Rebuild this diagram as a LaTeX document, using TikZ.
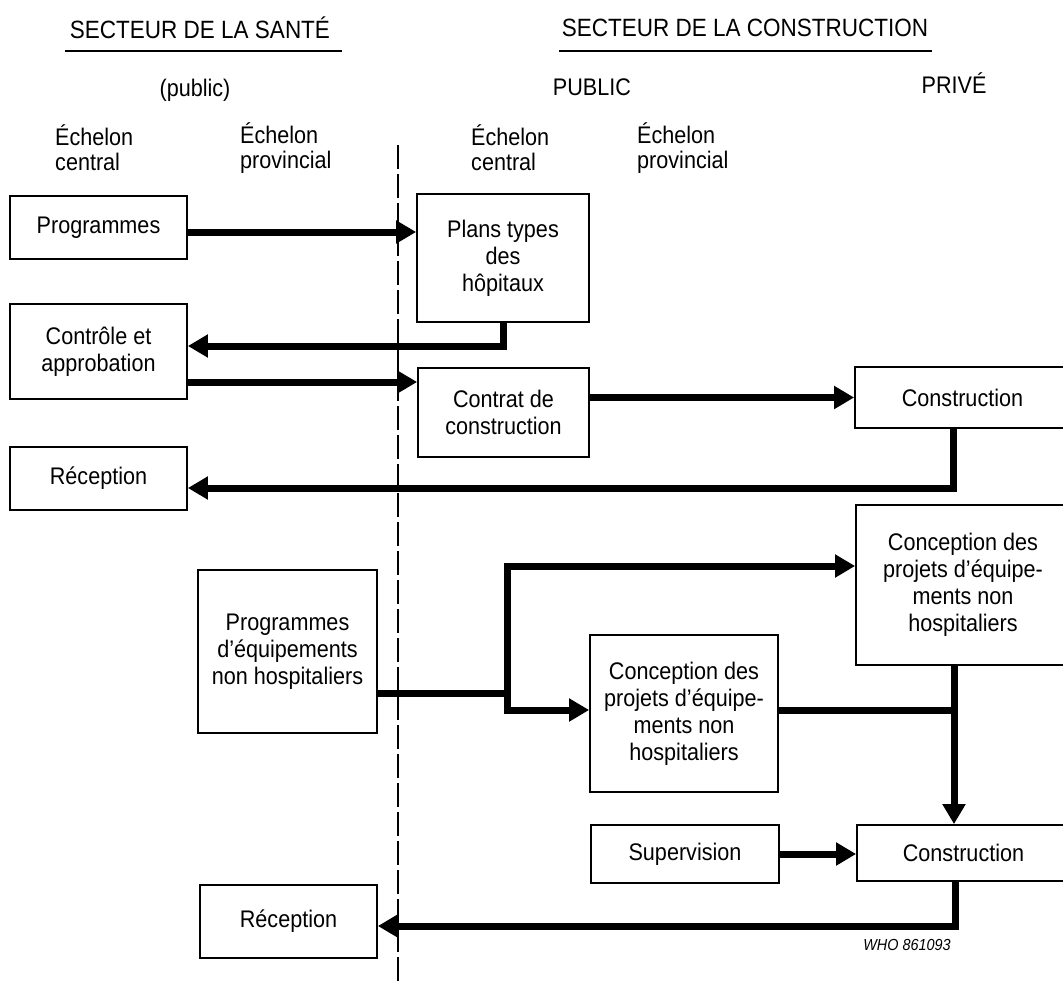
\documentclass[tikz,border=0pt]{standalone}
\usepackage{fontspec}
\setmainfont{Liberation Sans}[FakeStretch=0.9]
\usetikzlibrary{arrows.meta,calc}
\begin{document}
\begin{tikzpicture}[x=1pt,y=-1pt,
  box/.style={draw, line width=1.8pt, align=center, inner sep=0pt, font=\fontsize{24}{27}\selectfont},
  lbl/.style={inner sep=0pt, font=\fontsize{24}{25}\selectfont},
  hdr/.style={inner sep=0pt, font=\fontsize{25}{28}\selectfont},
  conn/.style={line width=7pt},
  arr/.style={conn, -{Triangle[length=20pt,width=22pt]}},
  rule/.style={line width=2pt},
  divider/.style={line width=1.8pt, dash pattern=on 24pt off 5pt},
]
\useasboundingbox (0,0) rectangle (1063,985);
\clip (0,0) rectangle (1063,985);

% headings
\node[hdr] (h1) at (200,28) {SECTEUR DE LA SANTÉ};
\draw[rule] (65,51) -- (342,51);
\node[hdr] (h2) at (745,28) {SECTEUR DE LA CONSTRUCTION};
\draw[rule] (559,51) -- (932,51);
\node[lbl] (pub1) at (195,90) {(public)};
\node[lbl] (pub2) at (592,87) {PUBLIC};
\node[lbl] (priv) at (954,83) {PRIVÉ};
\node[lbl, anchor=west, align=left] (e1) at (55,148) {Échelon\\central};
\node[lbl, anchor=west, align=left] (e2) at (240,148) {Échelon\\provincial};
\node[lbl, anchor=west, align=left] (e3) at (471,148) {Échelon\\central};
\node[lbl, anchor=west, align=left] (e4) at (637,148) {Échelon\\provincial};

% divider
\draw[divider] (398,145) -- (398,985);

% boxes
\node[box, minimum width=177pt, minimum height=63pt] (prog) at (98.5,227.5) {Programmes};
\node[box, minimum width=172pt, minimum height=128pt] (plans) at (503,258) {Plans types\\des\\hôpitaux};
\node[box, minimum width=177pt, minimum height=95pt] (ctrl) at (98.5,351.5) {Contrôle et\\approbation};
\node[box, minimum width=171pt, minimum height=89pt] (contrat) at (503.5,412.5) {Contrat de\\construction};
\node[box, minimum width=215pt, minimum height=61pt] (constr) at (962.5,397.5) {Construction};
\node[box, minimum width=177pt, minimum height=63pt] (rec1) at (98.5,478.5) {Réception};
\node[box, minimum width=179pt, minimum height=163pt] (progeq) at (287.5,651.5) {Programmes\\d’équipements\\non hospitaliers};
\node[box, minimum width=214pt, minimum height=160pt] (pconc) at (963,585) {Conception des\\projets d’équipe-\\ments non\\hospitaliers};
\node[box, minimum width=188pt, minimum height=157pt] (gconc) at (684,713.5) {Conception des\\projets d’équipe-\\ments non\\hospitaliers};
\node[box, minimum width=188pt, minimum height=58pt] (sup) at (685,854) {Supervision};
\node[box, minimum width=213pt, minimum height=56pt] (constr2) at (963.5,853) {Construction};
\node[box, minimum width=177pt, minimum height=73pt] (rec2) at (288.5,921.5) {Réception};

\node[inner sep=0pt, font=\fontsize{16}{18}\selectfont\itshape] (who) at (907,945) {WHO 861093};

% connectors
\draw[arr] ([yshift=-4.5pt]prog.east) -- ([yshift=-4.5pt]prog.east -| plans.west);
\draw[arr] (plans.south) |- ([yshift=5.5pt]ctrl.east);
\draw[arr] ([yshift=-30.5pt]ctrl.east) -- ([yshift=-30.5pt]ctrl.east -| contrat.west);
\draw[arr] (contrat.east |- constr.west) -- (constr.west);
\coordinate (c1) at ([xshift=-9pt]constr.south);
\draw[arr] (c1) |- ([yshift=-9.5pt]rec1.east);

\coordinate (br) at (507,693);
\draw[conn] ([yshift=-41.5pt]progeq.east) -- (br);
\draw[arr] (br) |- ([yshift=19pt]pconc.west);
\draw[arr] (br) |- ([yshift=3.5pt]gconc.west);

\coordinate (pv) at ([xshift=-9pt]pconc.south);
\draw[arr] (pv) -- (pv |- constr2.north);
\draw[conn] ([yshift=3.5pt]gconc.east) -- ([yshift=3.5pt]gconc.east -| pv);

\draw[arr] (sup.east) -- (sup.east -| constr2.west);
\coordinate (c2) at ([xshift=-8.5pt]constr2.south);
\draw[arr] (c2) |- ([yshift=-4.5pt]rec2.east);
\end{tikzpicture}
\end{document}
